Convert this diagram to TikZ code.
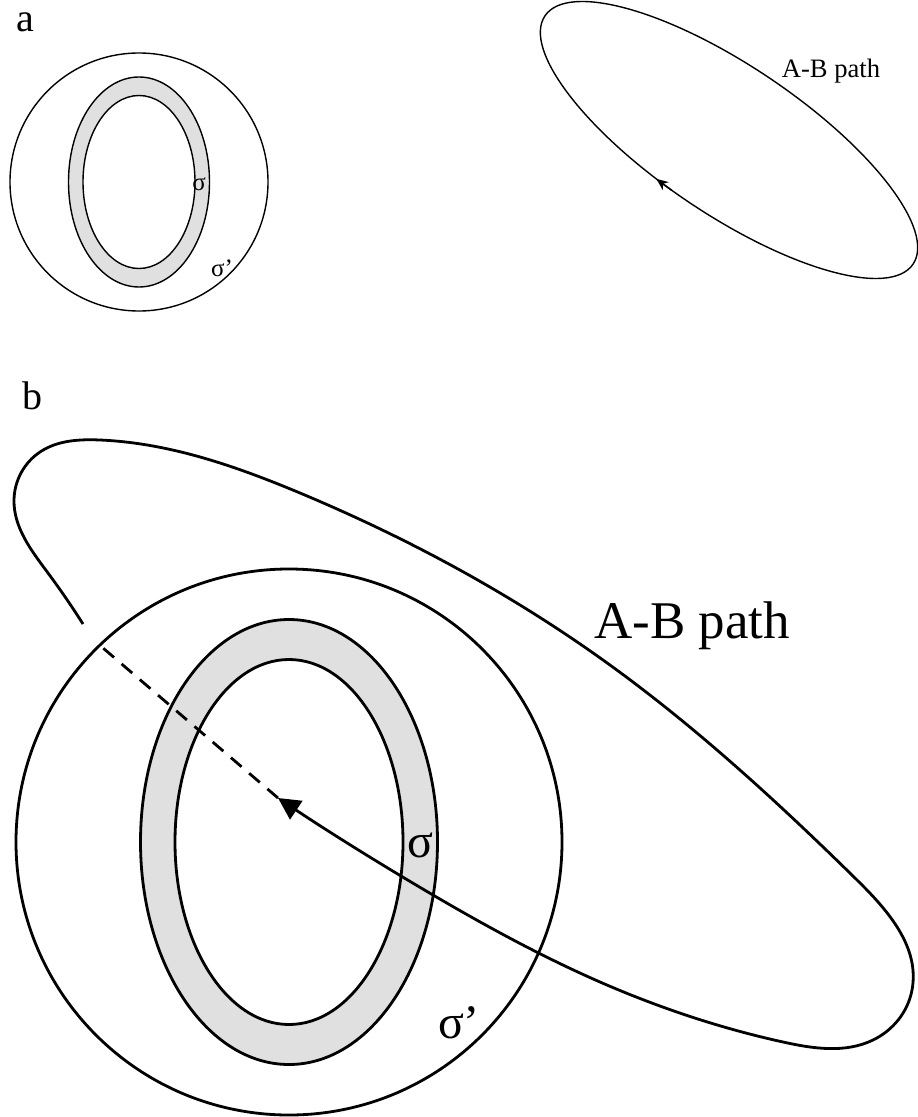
\documentclass[tikz,border=0pt]{standalone}
\usepackage{fontspec}
\setmainfont{Liberation Serif}
\usetikzlibrary{arrows.meta}
\usetikzlibrary{hobby}
\definecolor{ringgray}{gray}{0.88}

\begin{document}
\begin{tikzpicture}[x=0.5pt,y=0.5pt,
    thinline/.style={line width=0.7pt},
    thickline/.style={line width=1.4pt},
    ring/.style={fill=ringgray,even odd rule},
    panel/.style={font=\fontsize{20}{24}\selectfont},
    biglabel/.style={font=\fontsize{24}{28}\selectfont},
    smalllabel/.style={font=\fontsize{12.5}{15}\selectfont}]
\useasboundingbox (0,0) rectangle (917,-1117);
\node[panel] (pa) at (25,-22) {a};
\node[panel] (pb) at (32,-396) {b};
\coordinate (ca) at (139,-182);
\draw[thinline] (ca) circle [radius=129];
\filldraw[thinline,ring] (ca) ellipse [x radius=70.5, y radius=105] (ca) ellipse [x radius=56, y radius=86.5];
\node[smalllabel] (siga) at (199,-184) {σ};
\node[smalllabel] (sigpa) at (222,-268) {σ’};
\begin{scope}[shift={(729,-140)},rotate=-34]
\draw[thinline] (0,0) ellipse [x radius=222, y radius=74];
\draw[thinline,-{Stealth[length=6pt,width=5pt]}] (265:222 and 74) arc [start angle=265, end angle=260, x radius=222, y radius=74];
\end{scope}
\node[font=\fontsize{13.3}{16}\selectfont] (ABa) at (831,-71) {A-B path};
\coordinate (cb) at (289,-842);
\draw[thickline] (cb) circle [radius=273];
\filldraw[thickline,ring] (cb) ellipse [x radius=148.5, y radius=222.5] (cb) ellipse [x radius=114, y radius=182.5];
\node[biglabel] (sigb) at (420,-845) {σ};
\node[biglabel] (sigpb) at (459,-1023) {σ’};
\coordinate (start) at (83,-624);
\coordinate (tip) at (278,-798);
\coordinate (rim) at (103,-648);
\draw[thickline,use Hobby shortcut,-{Triangle[length=11pt,width=11pt]}] (start) .. (48,-573) .. (14,-500) .. (40,-452) .. (100,-440) .. (300,-493) .. (603,-660) .. (857,-880) .. (912,-990) .. (873,-1040) .. (783,-1042) .. (600,-982) .. (433,-895) .. (tip);
\draw[thickline,dash pattern=on 7pt off 5pt] (tip) -- (rim);
\node[font=\fontsize{26.5}{30}\selectfont] (ABb) at (692,-626) {A-B path};
\end{tikzpicture}
\end{document}
